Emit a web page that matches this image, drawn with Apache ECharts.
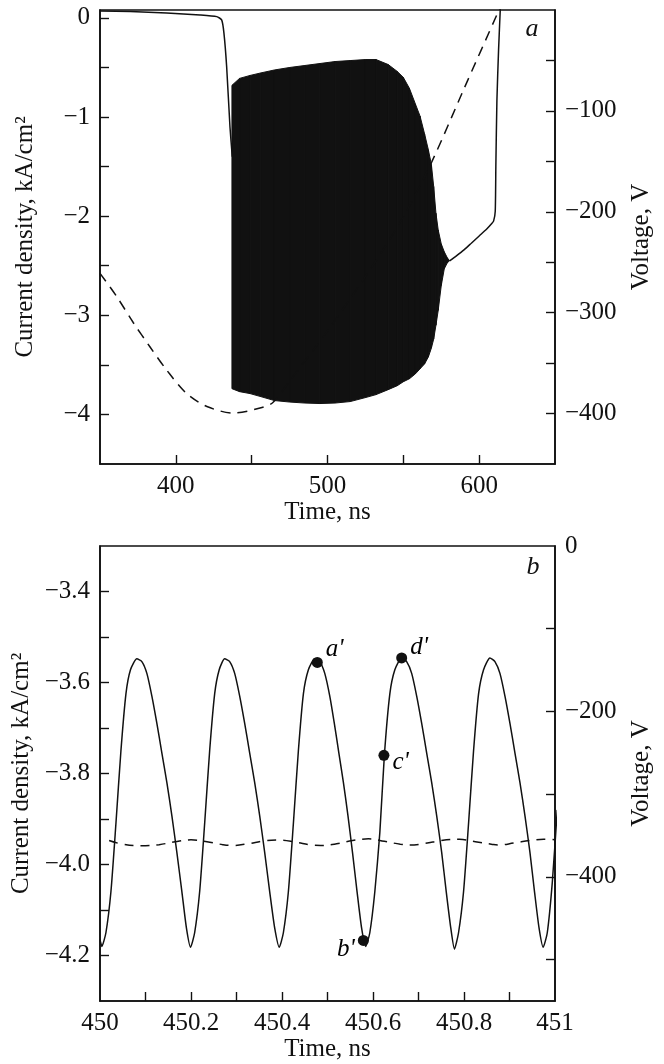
<!DOCTYPE html>
<html>
<head>
<meta charset="utf-8">
<script src="https://cdn.jsdelivr.net/npm/echarts@6/dist/echarts.min.js"></script>
<style>
html, body { margin: 0; padding: 0; background: #fff; }
#chart { width: 664px; height: 1064px; }
</style>
</head>
<body>
<div id="chart"></div>
<script>
// ---- panel a: current density (kA/cm2) and voltage (V) vs time (ns)
const currentBefore = [[350, 0.07], [370, 0.065], [394, 0.05], [416, 0.03], [427, 0.013], [430.2, -0.02],
  [431.7, -0.15], [433.5, -0.49], [435.7, -1.1], [437.2, -1.4]];
// envelope of the fast oscillation (drawn as a filled band)
const bandTime = [437, 442, 449, 456, 465, 475, 485, 495, 505, 515, 525, 532, 540, 546, 550, 554, 558, 561,
  564, 566.5, 568.5, 570, 571.5, 573, 575, 577, 579, 580.5];
const bandUpper = [-0.68, -0.61, -0.58, -0.555, -0.525, -0.5, -0.48, -0.46, -0.44, -0.43, -0.42, -0.42, -0.47,
  -0.54, -0.6, -0.71, -0.87, -0.99, -1.17, -1.33, -1.48, -1.7, -1.97, -2.14, -2.28, -2.36, -2.42, -2.45];
const bandLower = [-3.74, -3.77, -3.79, -3.82, -3.86, -3.875, -3.885, -3.89, -3.885, -3.87, -3.83, -3.8, -3.75,
  -3.71, -3.67, -3.64, -3.59, -3.54, -3.49, -3.42, -3.33, -3.24, -3.1, -2.95, -2.7, -2.53, -2.47, -2.45];
const currentAfter = [[580.5, -2.45], [585, -2.4], [590, -2.34], [595, -2.27], [600, -2.2], [605, -2.13],
  [608, -2.08], [609.5, -2.05], [610.6, -1.95], [611, -1.5], [611.7, -0.83], [612.8, -0.32], [613.9, 0.08], [615, 0.5]];
const voltageA = [[350, -261], [361, -284], [372, -310], [383, -334], [394, -357], [407, -380], [420.5, -393],
  [438, -399.5], [455.5, -394.5], [464, -389], [475, -368], [500, -318], [530, -253], [550, -205],
  [568.9, -150], [590, -78], [612.5, -2], [614, 3]];

// ---- panel b: zoom 450..451 ns
const currentB = [
  [450.000, -4.165], [450.004, -4.18], [450.013, -4.15], [450.024, -4.06], [450.035, -3.91], [450.046, -3.75],
  [450.057, -3.625], [450.067, -3.572], [450.081, -3.548],
  [450.092, -3.554], [450.103, -3.58], [450.114, -3.63], [450.125, -3.69], [450.136, -3.755], [450.147, -3.82],
  [450.158, -3.893], [450.169, -3.974], [450.180, -4.06], [450.190, -4.14], [450.199, -4.182],
  [450.208, -4.15], [450.219, -4.06], [450.230, -3.91], [450.241, -3.75], [450.252, -3.625], [450.262, -3.572],
  [450.274, -3.548],
  [450.285, -3.554], [450.296, -3.58], [450.307, -3.63], [450.318, -3.69], [450.329, -3.755], [450.340, -3.82],
  [450.351, -3.893], [450.362, -3.974], [450.373, -4.06], [450.384, -4.14], [450.394, -4.182],
  [450.403, -4.15], [450.414, -4.06], [450.425, -3.91], [450.436, -3.75], [450.447, -3.625], [450.458, -3.572],
  [450.472, -3.548],
  [450.483, -3.554], [450.494, -3.58], [450.505, -3.63], [450.515, -3.69], [450.525, -3.755], [450.535, -3.82],
  [450.545, -3.893], [450.555, -3.974], [450.565, -4.06], [450.575, -4.14], [450.584, -4.18],
  [450.593, -4.15], [450.604, -4.06], [450.615, -3.93], [450.625, -3.76], [450.637, -3.625], [450.648, -3.572],
  [450.663, -3.546],
  [450.674, -3.554], [450.685, -3.58], [450.696, -3.63], [450.707, -3.69], [450.718, -3.755], [450.729, -3.82],
  [450.740, -3.893], [450.751, -3.974], [450.761, -4.06], [450.771, -4.14], [450.779, -4.186],
  [450.788, -4.15], [450.799, -4.06], [450.810, -3.91], [450.821, -3.75], [450.832, -3.625], [450.843, -3.572],
  [450.857, -3.546],
  [450.868, -3.554], [450.879, -3.58], [450.890, -3.63], [450.901, -3.69], [450.912, -3.755], [450.923, -3.82],
  [450.934, -3.893], [450.945, -3.974], [450.955, -4.06], [450.965, -4.14], [450.974, -4.182],
  [450.983, -4.15], [450.994, -4.04], [451.005, -3.88]
];
const voltageB = [[450.02, -356], [450.05, -360.5], [450.09, -362.4], [450.13, -361], [450.165, -357.5],
  [450.2, -355.2], [450.235, -357.5], [450.27, -361], [450.29, -362], [450.325, -360], [450.36, -356.5],
  [450.395, -355.5], [450.43, -358], [450.465, -361.5], [450.485, -362], [450.52, -360], [450.555, -356],
  [450.59, -354], [450.625, -357], [450.66, -360.5], [450.68, -361.5], [450.715, -359.5], [450.75, -356],
  [450.79, -354.5], [450.825, -357.5], [450.86, -360.5], [450.875, -361.5], [450.91, -359], [450.945, -356],
  [450.975, -354.5], [451.0, -355]];
const markerNames = ["a'", "b'", "c'", "d'"];
const markerPoints = [[450.4776, -3.556], [450.5788, -4.167], [450.624, -3.76], [450.663, -3.546]];

// ticks and labels
const timeTicksA = [400, 450, 500, 550, 600];
const timeLabelsA = [400, 500, 600];
const jTicksA = [-4, -3.5, -3, -2.5, -2, -1.5, -1, -0.5, 0];
const jLabelsA = [-4, -3, -2, -1, 0];
const vTicksA = [-400, -350, -300, -250, -200, -150, -100, -50];
const vLabelsA = [-400, -300, -200, -100];
const timeTicksB = [450.1, 450.2, 450.3, 450.4, 450.5, 450.6, 450.7, 450.8, 450.9];
const timeLabelsB = [450, 450.2, 450.4, 450.6, 450.8, 451];
const jTicksB = [-4.2, -4.1, -4.0, -3.9, -3.8, -3.7, -3.6, -3.5, -3.4];
const jLabelsB = [-4.2, -4.0, -3.8, -3.6, -3.4];
const vTicksB = [-500, -400, -300, -200, -100];
const vLabelsB = [-400, -200, 0];

const FONT = 'Liberation Serif';
const INK = '#111';

function signed(v, digits) {
  return (v < 0 ? '\u2212' : '') + Math.abs(v).toFixed(digits);
}

function axis(opts) {
  return Object.assign({
    type: 'value',
    scale: true,
    splitLine: { show: false },
    axisLine: { show: true, onZero: false, lineStyle: { color: INK, width: 1.6 } },
    axisTick: { show: true, inside: true, length: 9, lineStyle: { color: INK, width: 1.4 }, customValues: opts.ticks },
    axisLabel: { color: INK, fontFamily: FONT, fontSize: 25, margin: 10, customValues: opts.labels,
      formatter: v => opts.fmt(v) },
    nameLocation: 'middle',
    nameTextStyle: { color: INK, fontFamily: FONT, fontSize: 25 }
  }, opts.extra);
}

const dom = document.getElementById('chart');
const chart = echarts.init(dom, null, { renderer: 'canvas' });

const lineBase = { type: 'line', showSymbol: false, symbol: 'none', animation: false, clip: true };

const option = {
  animation: false,
  backgroundColor: '#fff',
  grid: [
    { left: 100, right: 109, top: 10, height: 454, show: true, borderColor: INK, borderWidth: 1.6 },
    { left: 100, right: 109, top: 546, height: 455, show: true, borderColor: INK, borderWidth: 1.6 }
  ],
  xAxis: [
    axis({ ticks: timeTicksA, labels: timeLabelsA, fmt: v => String(v),
      extra: { gridIndex: 0, min: 350, max: 650, name: 'Time, ns', nameGap: 34 } }),
    axis({ ticks: timeTicksB, labels: timeLabelsB, fmt: v => String(v),
      extra: { gridIndex: 1, min: 450, max: 451, name: 'Time, ns', nameGap: 36 } })
  ],
  yAxis: [
    axis({ ticks: jTicksA, labels: jLabelsA, fmt: v => signed(v, 0),
      extra: { gridIndex: 0, position: 'left', min: -4.5, max: 0.08, name: 'Current density, kA/cm\u00b2',
        nameGap: 62, nameRotate: 90 } }),
    axis({ ticks: vTicksA, labels: vLabelsA, fmt: v => signed(v, 0),
      extra: { gridIndex: 0, position: 'right', min: -450, max: 0, name: 'Voltage, V', nameGap: 74, nameRotate: 90 } }),
    axis({ ticks: jTicksB, labels: jLabelsB, fmt: v => signed(v, 1),
      extra: { gridIndex: 1, position: 'left', min: -4.3, max: -3.3, name: 'Current density, kA/cm\u00b2',
        nameGap: 62, nameRotate: 90 } }),
    axis({ ticks: vTicksB, labels: vLabelsB, fmt: v => signed(v, 0),
      extra: { gridIndex: 1, position: 'right', min: -550, max: 0, name: 'Voltage, V', nameGap: 74, nameRotate: 90 } })
  ],
  graphic: [
    { type: 'text', x: 532, y: 29, style: { text: 'a', fill: INK, font: 'italic 26px "Liberation Serif"',
      textAlign: 'center', textVerticalAlign: 'middle' } },
    { type: 'text', x: 533, y: 567, style: { text: 'b', fill: INK, font: 'italic 26px "Liberation Serif"',
      textAlign: 'center', textVerticalAlign: 'middle' } }
  ],
  series: [
    Object.assign({}, lineBase, { name: 'voltage a', xAxisIndex: 0, yAxisIndex: 1, data: voltageA, smooth: 0.3,
      lineStyle: { color: INK, width: 1.5, type: [10, 7] } }),
    {
      type: 'custom', name: 'oscillation', xAxisIndex: 0, yAxisIndex: 0, animation: false,
      data: bandTime.map((t, i) => [t, bandUpper[i], bandLower[i]]),
      encode: { x: 0, y: [1, 2] },
      renderItem: function (params, api) {
        const i = params.dataIndex;
        if (i >= bandTime.length - 1) return null;
        const pts = [
          api.coord([bandTime[i], bandUpper[i]]),
          api.coord([bandTime[i + 1], bandUpper[i + 1]]),
          api.coord([bandTime[i + 1], bandLower[i + 1]]),
          api.coord([bandTime[i], bandLower[i]])
        ];
        return { type: 'polygon', shape: { points: pts }, style: { fill: INK, stroke: INK, lineWidth: 1 } };
      }
    },
    Object.assign({}, lineBase, { name: 'current a1', xAxisIndex: 0, yAxisIndex: 0, data: currentBefore, smooth: 0.2,
      lineStyle: { color: INK, width: 1.5 } }),
    Object.assign({}, lineBase, { name: 'current a2', xAxisIndex: 0, yAxisIndex: 0, data: currentAfter, smooth: 0.2,
      lineStyle: { color: INK, width: 1.5 } }),
    Object.assign({}, lineBase, { name: 'voltage b', xAxisIndex: 1, yAxisIndex: 3, data: voltageB, smooth: 0.4,
      lineStyle: { color: INK, width: 1.5, type: [9, 7] } }),
    Object.assign({}, lineBase, { name: 'current b', xAxisIndex: 1, yAxisIndex: 2, data: currentB, smooth: 0.2,
      lineStyle: { color: INK, width: 1.5 } }),
    {
      type: 'scatter', name: 'points', xAxisIndex: 1, yAxisIndex: 2, animation: false,
      symbolSize: 11, itemStyle: { color: INK, opacity: 1 },
      data: markerPoints.map((p, i) => ({
        value: p,
        label: [
          { position: 'right', offset: [0, -13] },
          { position: 'left', offset: [0, 9] },
          { position: 'right', offset: [0, 7] },
          { position: 'right', offset: [0, -11] }
        ][i]
      })),
      label: {
        show: true, distance: 3, color: '#000', opacity: 1, fontFamily: FONT, fontSize: 25, fontStyle: 'italic',
        formatter: p => markerNames[p.dataIndex]
      }
    }
  ]
};

chart.setOption(option);
</script>
</body>
</html>
